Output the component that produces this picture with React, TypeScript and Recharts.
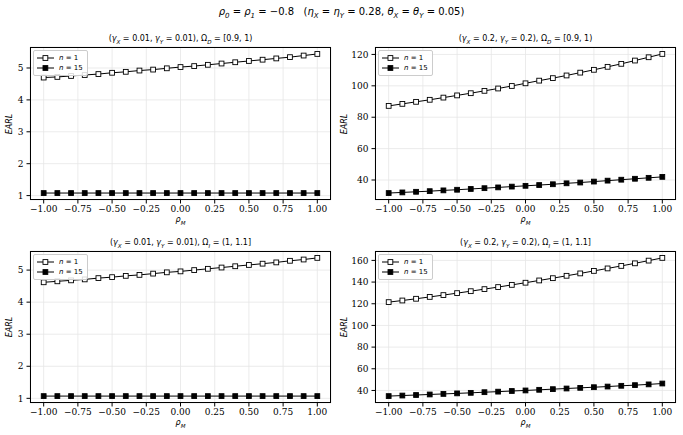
import React from "react";
import { LineChart, Line, XAxis, YAxis, CartesianGrid, Legend } from "recharts";

const rho = [-1, -0.9, -0.8, -0.7, -0.6, -0.5, -0.4, -0.3, -0.2, -0.1, 0, 0.1, 0.2, 0.3, 0.4, 0.5, 0.6, 0.7, 0.8, 0.9, 1];
const xTicks = [-1, -0.75, -0.5, -0.25, 0, 0.25, 0.5, 0.75, 1];

// top-left: gamma 0.01, Omega_D
const tlN1 = [4.7, 4.72, 4.75, 4.78, 4.81, 4.85, 4.88, 4.92, 4.95, 4.99, 5.03, 5.06, 5.1, 5.14, 5.18, 5.22, 5.26, 5.3, 5.34, 5.39, 5.44];
const tlN15 = [1.08, 1.08, 1.08, 1.08, 1.08, 1.08, 1.08, 1.08, 1.08, 1.08, 1.08, 1.08, 1.08, 1.08, 1.08, 1.08, 1.08, 1.08, 1.08, 1.08, 1.08];
// top-right: gamma 0.2, Omega_D
const trN1 = [87.2, 88.5, 89.8, 91.1, 92.5, 93.9, 95.3, 96.8, 98.3, 99.9, 101.6, 103.3, 104.9, 106.6, 108.4, 110.2, 112.1, 114.0, 116.1, 118.2, 120.3];
const trN15 = [31.7, 32.1, 32.5, 32.9, 33.4, 33.8, 34.3, 34.8, 35.3, 35.8, 36.3, 36.8, 37.3, 37.9, 38.4, 39.0, 39.6, 40.2, 40.8, 41.4, 42.0];
// bottom-left: gamma 0.01, Omega_I
const blN1 = [4.62, 4.65, 4.68, 4.71, 4.75, 4.78, 4.82, 4.85, 4.89, 4.93, 4.96, 5.0, 5.04, 5.08, 5.12, 5.16, 5.2, 5.24, 5.29, 5.33, 5.38];
const blN15 = [1.07, 1.07, 1.07, 1.07, 1.07, 1.07, 1.07, 1.07, 1.07, 1.07, 1.07, 1.07, 1.07, 1.07, 1.07, 1.07, 1.07, 1.07, 1.07, 1.07, 1.07];
// bottom-right: gamma 0.2, Omega_I
const brN1 = [121.5, 123.0, 124.6, 126.3, 128.0, 129.8, 131.6, 133.5, 135.4, 137.4, 139.4, 141.5, 143.6, 145.8, 148.0, 150.3, 152.6, 154.9, 157.3, 159.8, 162.3];
const brN15 = [34.8, 35.3, 35.8, 36.3, 36.8, 37.3, 37.8, 38.4, 38.9, 39.5, 40.0, 40.6, 41.2, 41.8, 42.4, 43.0, 43.6, 44.3, 44.9, 45.6, 46.4];

const smallTicks = [1, 2, 3, 4, 5];
const bigTicksTop = [40, 60, 80, 100, 120];
const bigTicksBottom = [40, 60, 80, 100, 120, 140, 160];

const sans = "'DejaVu Sans', sans-serif";
const serif = "'DejaVu Serif', serif";

const fmtTick = (v: number) => v.toFixed(2).replace("-", "\u2212");

const padDomain = (a: number[], b: number[]): [number, number] => {
  const lo = Math.min(...a, ...b);
  const hi = Math.max(...a, ...b);
  const m = (hi - lo) * 0.05;
  return [lo - m, hi + m];
};

const Square = (filled: boolean) => (props: any) => {
  const { cx, cy, index } = props;
  if (cx == null || cy == null) return <g key={index} />;
  return (
    <rect
      key={index}
      x={cx - 2.4}
      y={cy - 2.4}
      width={4.8}
      height={4.8}
      fill={filled ? "#000" : "#fff"}
      stroke="#000"
      strokeWidth={0.9}
    />
  );
};

const LegendBox = () => (
  <div
    style={{
      border: "1px solid #cccccc",
      borderRadius: 2,
      background: "rgba(255,255,255,0.85)",
      padding: "2px 4px 2px 3px",
      fontFamily: sans,
      fontSize: 7,
      lineHeight: "10px",
      color: "#000",
    }}
  >
    {[false, true].map((filled, i) => (
      <div key={i} style={{ display: "flex", alignItems: "center" }}>
        <svg width={17} height={8} style={{ marginRight: 5 }}>
          <line x1={0} y1={4} x2={17} y2={4} stroke="#000" strokeWidth={1} />
          <rect x={6} y={1.6} width={4.8} height={4.8} fill={filled ? "#000" : "#fff"} stroke="#000" strokeWidth={0.9} />
        </svg>
        <span>
          <i>n</i> = {filled ? "15" : "1"}
        </span>
      </div>
    ))}
  </div>
);

type PanelProps = {
  left: number;
  top: number;
  plotH: number;
  n1: number[];
  n15: number[];
  yTicks: number[];
  labelGap: number;
  title: React.ReactNode;
};

const PLOT_W = 301;
const Y_W = 30;
const M_TOP = 17;
const X_H = 30;

const tickStyle = { fill: "#000", fontSize: 9, fontFamily: serif, style: { fontFamily: serif } };

const Panel = ({ left, top, plotH, n1, n15, yTicks, labelGap, title }: PanelProps) => {
  const data = rho.map((r, i) => ({ rho: r, n1: n1[i], n15: n15[i] }));
  const domain = padDomain(n1, n15);
  const plotLeft = left + Y_W;
  const plotTop = top + M_TOP;
  return (
    <>
      <div style={{ position: "absolute", left, top, fontFamily: serif }}>
        <LineChart
          width={Y_W + PLOT_W + 5}
          height={M_TOP + plotH + X_H}
          data={data}
          margin={{ top: M_TOP, right: 5, bottom: 0, left: 0 }}
          style={{ fontFamily: serif }}
        >
          <CartesianGrid stroke="#e6e6e6" strokeWidth={0.8} />
          <XAxis
            dataKey="rho"
            type="number"
            domain={[-1.1, 1.1]}
            ticks={xTicks}
            tickFormatter={fmtTick}
            height={X_H}
            axisLine={false}
            tickSize={3.5}
            tickMargin={2}
            stroke="#000"
            tick={tickStyle}
            interval={0}
            allowDataOverflow
          />
          <YAxis
            type="number"
            domain={domain}
            ticks={yTicks}
            width={Y_W}
            axisLine={false}
            tickSize={3.5}
            tickMargin={3}
            stroke="#000"
            tick={tickStyle}
            interval={0}
            allowDataOverflow
          />
          <Legend
            layout="vertical"
            align="center"
            verticalAlign="middle"
            content={() => <LegendBox />}
            wrapperStyle={{ left: Y_W + 3, top: M_TOP + 3, width: "auto", height: "auto" }}
          />
          <Line
            dataKey="n1"
            type="linear"
            stroke="#000"
            strokeWidth={1}
            dot={Square(false)}
            isAnimationActive={false}
          />
          <Line
            dataKey="n15"
            type="linear"
            stroke="#000"
            strokeWidth={1}
            dot={Square(true)}
            isAnimationActive={false}
          />
        </LineChart>
      </div>
      <div
        style={{
          position: "absolute",
          left: plotLeft,
          top: plotTop,
          width: PLOT_W,
          height: plotH,
          border: "1px solid #000",
          boxSizing: "border-box",
          pointerEvents: "none",
        }}
      />
      <div
        style={{
          position: "absolute",
          left: plotLeft,
          width: PLOT_W,
          top: plotTop - 13,
          textAlign: "center",
          fontFamily: sans,
          fontSize: 8,
          lineHeight: "10px",
          whiteSpace: "nowrap",
        }}
      >
        {title}
      </div>
      <div
        style={{
          position: "absolute",
          left: plotLeft,
          width: PLOT_W,
          top: plotTop + plotH + 15,
          textAlign: "center",
          fontFamily: sans,
          fontSize: 8,
          lineHeight: "10px",
        }}
      >
        <i>ρ</i>
        <sub style={{ fontSize: 5.5 }}>
          <i>M</i>
        </sub>
      </div>
      <div
        style={{
          position: "absolute",
          left: plotLeft - labelGap - 25,
          width: 50,
          top: plotTop + plotH / 2 - 5,
          textAlign: "center",
          fontFamily: sans,
          fontSize: 8,
          lineHeight: "10px",
          transform: "rotate(-90deg)",
          transformOrigin: "25px 5px",
        }}
      >
        <i>EARL</i>
      </div>
    </>
  );
};

const Sub = ({ c }: { c: string }) => <sub style={{ fontSize: "0.7em", lineHeight: 0 }}><i>{c}</i></sub>;

const gammaTitle = (g: string, omega: "D" | "I") => (
  <span>
    (<i>γ</i>
    <Sub c="X" /> = {g}, <i>γ</i>
    <Sub c="Y" /> = {g}), Ω
    <Sub c={omega} /> = {omega === "D" ? "[0.9, 1)" : "(1, 1.1]"}
  </span>
);

export default function App() {
  return (
    <div style={{ position: "absolute", left: 0, top: 0, width: 683, height: 435, background: "#fff", overflow: "hidden" }}>
      <div
        style={{
          position: "absolute",
          left: 0,
          width: 683,
          top: 5,
          textAlign: "center",
          fontFamily: sans,
          fontSize: 10,
          lineHeight: "13px",
        }}
      >
        <i>ρ</i>
        <Sub c="0" /> = <i>ρ</i>
        <Sub c="1" /> = −0.8&nbsp;&nbsp;&nbsp;(<i>η</i>
        <Sub c="X" /> = <i>η</i>
        <Sub c="Y" /> = 0.28, <i>θ</i>
        <Sub c="X" /> = <i>θ</i>
        <Sub c="Y" /> = 0.05)
      </div>
      <Panel left={0} top={30} plotH={153} n1={tlN1} n15={tlN15} yTicks={smallTicks} labelGap={20} title={gammaTitle("0.01", "D")} />
      <Panel left={345} top={30} plotH={153} n1={trN1} n15={trN15} yTicks={bigTicksTop} labelGap={30} title={gammaTitle("0.2", "D")} />
      <Panel left={0} top={234} plotH={152} n1={blN1} n15={blN15} yTicks={smallTicks} labelGap={20} title={gammaTitle("0.01", "I")} />
      <Panel left={345} top={234} plotH={152} n1={brN1} n15={brN15} yTicks={bigTicksBottom} labelGap={30} title={gammaTitle("0.2", "I")} />
    </div>
  );
}
